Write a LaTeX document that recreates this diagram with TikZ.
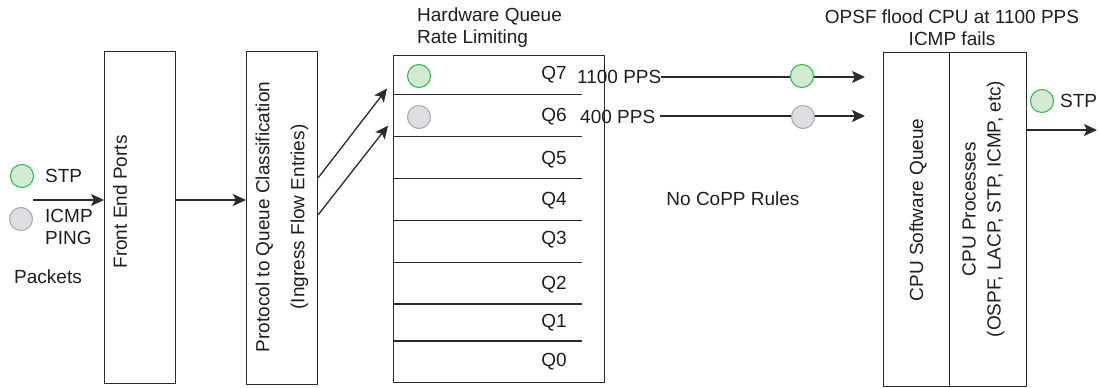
\documentclass[tikz,border=0pt]{standalone}
\usepackage{fontspec}
\setmainfont{Liberation Sans}
\usetikzlibrary{arrows.meta, calc}

\definecolor{edge}{HTML}{2B2B2B}
\definecolor{txt}{HTML}{1E1E1E}
\definecolor{stpfill}{HTML}{D3EBD2}
\definecolor{stpline}{HTML}{1DC240}
\definecolor{icmpfill}{HTML}{DCDEE2}
\definecolor{icmpline}{HTML}{A3A7AD}

\tikzset{
    box/.style={draw=edge, line width=1.3pt, inner sep=0, anchor=north west},
    lbl/.style={inner sep=0, align=left},
    stppkt/.style={circle, minimum size=23pt, inner sep=0, fill=stpfill, draw=stpline, line width=1pt},
    icmppkt/.style={circle, minimum size=23pt, inner sep=0, fill=icmpfill, draw=icmpline, line width=1pt},
    flow/.style={draw=edge, line width=1.3pt, -{Stealth[length=13pt, width=12pt, inset=3pt]}}
}

\begin{document}
\begin{tikzpicture}[x=1pt, y=-1pt, line join=round, font=\fontsize{19}{22}\selectfont, text=txt]

    \useasboundingbox (0,0) rectangle (1098,388);

    % --- 1. Packets (left) ---
    \node[stppkt] (instp) at (22,176) {};
    \node[icmppkt] (inicmp) at (21,219) {};
    \node[lbl, anchor=west] (instptxt) at (45,176) {STP};
    \node[lbl, anchor=west] (inicmptxt) at (45,226.5) {ICMP\\PING};
    \node[lbl, anchor=west] (pkts) at (14,277) {Packets};
    \coordinate (pin) at (33,200);

    % --- 2. Front end ports and classification ---
    \node[box, minimum width=71pt, minimum height=332pt] (fep) at (104,51) {};
    \node[lbl, rotate=90] (feptxt) at (120,202) {Front End Ports};
    \node[box, minimum width=71pt, minimum height=333pt] (pqc) at (246,51) {};
    \node[lbl, rotate=90, align=center] (pqctxt) at (282,217)
        {Protocol to Queue Classification\\[13pt](Ingress Flow Entries)};

    \draw[flow] (pin) -- (pin -| fep.west);
    \draw[flow] (fep.east |- pin) -- (pqc.west |- pin);

    % --- 3. Hardware queues ---
    \node[lbl, anchor=west] (hqtitle) at (417,28) {Hardware Queue\\Rate Limiting};
    \node[box, minimum width=211pt, minimum height=327pt] (hq) at (393,55) {};
    \foreach \y in {94.7, 136.3, 178.7, 220.3, 262.3, 304, 341}
        \draw[edge, line width=1.3pt] (hq.west |- 0,\y) -- (582,\y);
    \foreach \q/\y in {7/75, 6/117, 5/160, 4/201, 3/240, 2/285, 1/323, 0/362}
        \node[lbl] (q\q) at (554,\y) {Q\q};
    \node[stppkt] (hqstp) at (419,76) {};
    \node[icmppkt] (hqicmp) at (419,117) {};

    \draw[flow] ([yshift=40.5pt]pqc.east) -- ([xshift=-6pt, yshift=130.5pt]hq.west);
    \draw[flow] ([yshift=3.5pt]pqc.east) -- ([xshift=-5pt, yshift=93.5pt]hq.west);

    % --- 4. Rates towards the CPU ---
    \node[lbl, anchor=west] (r7) at (577,77) {1100 PPS};
    \node[lbl, anchor=west] (r6) at (580,116.5) {400 PPS};
    \node[lbl] (nocopp) at (733,199) {No CoPP Rules};

    % --- 5. CPU ---
    \node[lbl, align=center] (cputitle) at (952,28) {OPSF flood CPU at 1100 PPS\\ICMP fails};
    \node[box, minimum width=66pt, minimum height=334pt] (csq) at (883,52) {};
    \node[box, minimum width=77pt, minimum height=334pt] (cpp) at (949,52) {};
    \node[lbl, rotate=90] (csqtxt) at (918,210) {CPU Software Queue};
    \node[lbl, rotate=90, align=center] (cpptxt) at (983.5,209)
        {CPU Processes\\[3pt](OSPF, LACP, STP, ICMP, etc)};

    \draw[flow, shorten >=18pt] ([xshift=-1pt]r7.east) -- (r7.east -| csq.west);
    \draw[flow, shorten >=18pt] ([xshift=5pt]r6.east |- 0,116) -- (csq.west |- 0,116);
    \node[stppkt] (rstp) at (802,76) {};
    \node[icmppkt] (ricmp) at (803,117) {};

    % --- 6. Output (right) ---
    \node[stppkt] (outstp) at (1042,101) {};
    \node[lbl, anchor=west] (outstptxt) at (1060,101) {STP};
    \coordinate (out) at (1097,130);
    \draw[flow] (cpp.east |- out) -- (out);

\end{tikzpicture}
\end{document}
